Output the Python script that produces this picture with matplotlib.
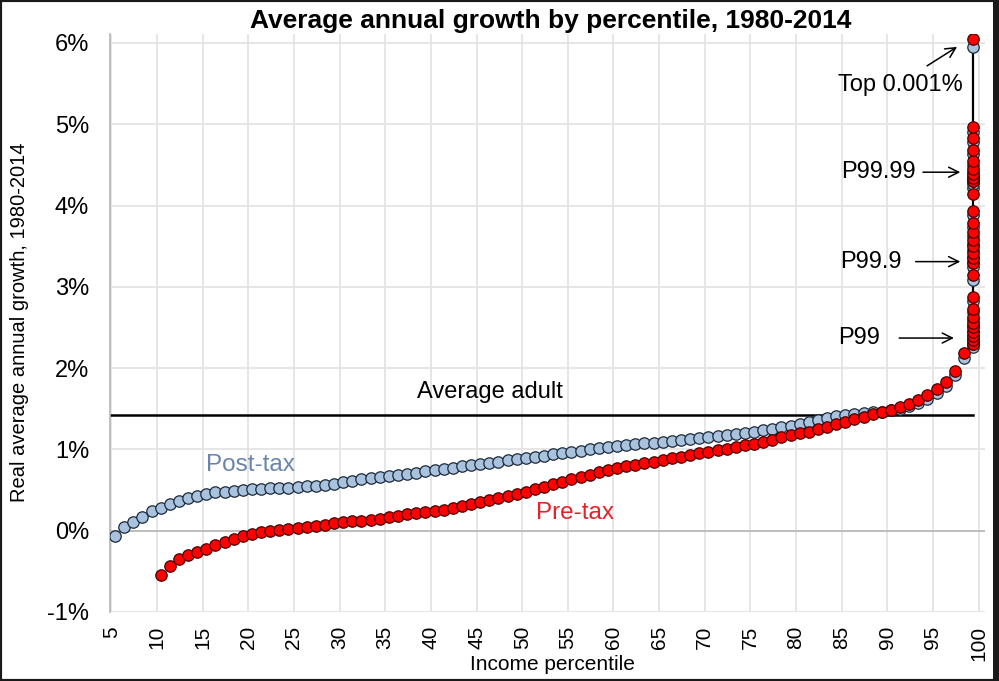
import matplotlib
matplotlib.use("Agg")
import matplotlib.pyplot as plt
from matplotlib.patches import Rectangle

plt.rcParams['font.family'] = ['Liberation Sans', 'DejaVu Sans']

# ---- data -------------------------------------------------------------
post_pct = list(range(5, 99))
post_tax = [-0.07, 0.05, 0.11, 0.17, 0.24, 0.28, 0.33, 0.37, 0.40, 0.43,
            0.45, 0.47, 0.48, 0.49, 0.50, 0.51, 0.515, 0.52, 0.525, 0.53,
            0.54, 0.545, 0.55, 0.565, 0.58, 0.595, 0.61, 0.63, 0.645, 0.66,
            0.675, 0.69, 0.70, 0.715, 0.73, 0.745, 0.76, 0.775, 0.79, 0.805,
            0.82, 0.835, 0.85, 0.865, 0.88, 0.895, 0.91, 0.925, 0.94, 0.955,
            0.97, 0.985, 1.00, 1.015, 1.03, 1.045, 1.055, 1.065, 1.075, 1.085,
            1.095, 1.105, 1.115, 1.125, 1.14, 1.15, 1.16, 1.175, 1.19, 1.205,
            1.22, 1.235, 1.25, 1.27, 1.29, 1.31, 1.335, 1.36, 1.385, 1.41,
            1.425, 1.435, 1.445, 1.455, 1.465, 1.48, 1.50, 1.53, 1.57, 1.62,
            1.69, 1.78, 1.91, 2.12]

pre_pct = list(range(10, 99))
pre_tax = [-0.54, -0.43, -0.35, -0.30, -0.26, -0.22, -0.18, -0.14, -0.10, -0.07,
           -0.04, -0.02, 0.00, 0.01, 0.025, 0.035, 0.045, 0.055, 0.07, 0.09,
           0.105, 0.115, 0.125, 0.135, 0.15, 0.165, 0.18, 0.20, 0.215, 0.23,
           0.245, 0.26, 0.275, 0.30, 0.33, 0.355, 0.38, 0.405, 0.43, 0.455,
           0.48, 0.51, 0.54, 0.57, 0.60, 0.63, 0.66, 0.69, 0.72, 0.75,
           0.77, 0.79, 0.81, 0.83, 0.85, 0.87, 0.89, 0.91, 0.93, 0.95,
           0.97, 0.99, 1.01, 1.03, 1.05, 1.07, 1.09, 1.12, 1.15, 1.18,
           1.20, 1.22, 1.25, 1.28, 1.31, 1.34, 1.37, 1.40, 1.43, 1.46,
           1.49, 1.52, 1.56, 1.61, 1.67, 1.74, 1.83, 1.97, 2.18]

# top fractiles (P99 ... top 0.001%), all drawn in the last percentile slot
top_pre = [2.30, 2.34, 2.39, 2.44, 2.50, 2.56, 2.63, 2.73, 2.87,
           3.14, 3.29, 3.35, 3.42, 3.50, 3.58, 3.67, 3.78, 3.93,
           4.14, 4.30, 4.34, 4.39, 4.45, 4.55, 4.68, 4.83, 4.96,
           6.05]
top_post = [2.26, 2.30, 2.35, 2.40, 2.46, 2.52, 2.59, 2.69, 2.82,
            3.09, 3.24, 3.30, 3.37, 3.45, 3.53, 3.62, 3.73, 3.88,
            4.21, 4.26, 4.30, 4.35, 4.41, 4.50, 4.63, 4.78, 4.91,
            5.95]
top_slot = 99

average_adult = 1.42

x_ticks = list(range(5, 101, 5))
y_ticks = [-1, 0, 1, 2, 3, 4, 5, 6]

# ---- figure -----------------------------------------------------------
W, H = 999, 681
fig = plt.figure(figsize=(W / 100, H / 100), dpi=100)
ax_h = 612 - 34
ax_w = 985 - 110
ax = fig.add_axes([110 / W, 1 - 612 / H, ax_w / W, ax_h / H])

off = 0.4
blue_fc, blue_ec = '#a9c2de', '#1c2a3a'
red_fc, red_ec = '#ff0000', '#4a0000'
ms = 8.2

ax.plot([p + off for p in post_pct], post_tax, linestyle='none', marker='o',
        ms=ms, mfc=blue_fc, mec=blue_ec, mew=0.9, zorder=3)
ax.plot([p + off for p in pre_pct], pre_tax, linestyle='none', marker='o',
        ms=ms, mfc=red_fc, mec=red_ec, mew=0.9, zorder=4)

tx = top_slot + off
ax.plot([tx] * len(top_pre), top_pre, color='black', lw=1.6, zorder=2)
ax.plot([tx] * len(top_post), top_post, linestyle='none', marker='o',
        ms=ms, mfc=blue_fc, mec=blue_ec, mew=0.9, zorder=3)
ax.plot([tx] * len(top_pre), top_pre, linestyle='none', marker='o',
        ms=ms, mfc=red_fc, mec=red_ec, mew=0.9, zorder=4)

ax.plot([4.85, tx], [average_adult, average_adult], color='black', lw=1.8, zorder=2.5)

ax.set_xlim(4.85, 100.7)
ax.set_ylim(-1, 6.11)
ax.set_xticks(x_ticks)
ax.set_xticklabels([str(t) for t in x_ticks], rotation=90, fontsize=15)
ax.set_yticks(y_ticks)
ax.set_yticklabels([f'{t}%' for t in y_ticks], fontsize=17)
ax.tick_params(axis='y', length=0, pad=15)
ax.tick_params(axis='x', length=0, pad=10)
ax.grid(True, color='#e2e2e2', lw=1.2, zorder=0)
ax.axhline(0, color='#bdbdbd', lw=1.4, zorder=1)
for s in ['top', 'right', 'bottom']:
    ax.spines[s].set_visible(False)
ax.spines['left'].set_color('#b5b5b5')
ax.spines['left'].set_linewidth(1.2)
ax.set_axisbelow(True)

ax.set_xlabel('Income percentile', fontsize=15)
ax.xaxis.set_label_coords((552 - 110) / ax_w, -(655 - 612) / ax_h)
ax.set_ylabel('Real average annual growth, 1980-2014', fontsize=14.5)
ax.yaxis.set_label_coords(-(110 - 29) / ax_w, (612 - 322) / ax_h)
fig.text(551 / W, 1 - 21 / H, 'Average annual growth by percentile, 1980-2014',
         ha='center', va='center', fontsize=19, fontweight='bold')

# labels
ax.text(46.5, 1.71, 'Average adult', ha='center', va='center', fontsize=17)
ax.text(20.2, 0.81, 'Post-tax', ha='center', va='center', fontsize=17.5, color='#6a85aa')
ax.text(55.8, 0.22, 'Pre-tax', ha='center', va='center', fontsize=17.5, color='#e8202a')

arrow = dict(arrowstyle='->', color='black', lw=1.1, mutation_scale=18)
ax.annotate('', xy=(97.9, 5.97), xytext=(94.1, 5.70), arrowprops=arrow)
ax.text(91.4, 5.48, 'Top 0.001%', ha='center', va='center', fontsize=17)
ax.annotate('', xy=(98.3, 4.41), xytext=(93.6, 4.41), arrowprops=arrow)
ax.text(89.0, 4.41, 'P99.99', ha='center', va='center', fontsize=17)
ax.annotate('', xy=(98.3, 3.31), xytext=(92.8, 3.31), arrowprops=arrow)
ax.text(88.2, 3.31, 'P99.9', ha='center', va='center', fontsize=17)
ax.annotate('', xy=(97.6, 2.37), xytext=(91.0, 2.37), arrowprops=arrow)
ax.text(86.9, 2.37, 'P99', ha='center', va='center', fontsize=17)

# screenshot frame
fig.patches.append(Rectangle((0, 0), 1, 1, transform=fig.transFigure, fill=False,
                             ec='#1a1a1a', lw=3, zorder=10))
fig.patches.append(Rectangle((993 / W, 0), 6 / W, 1, transform=fig.transFigure,
                             fc='#1a1a1a', ec='none', zorder=10))

fig.savefig('out.png', dpi=100)
